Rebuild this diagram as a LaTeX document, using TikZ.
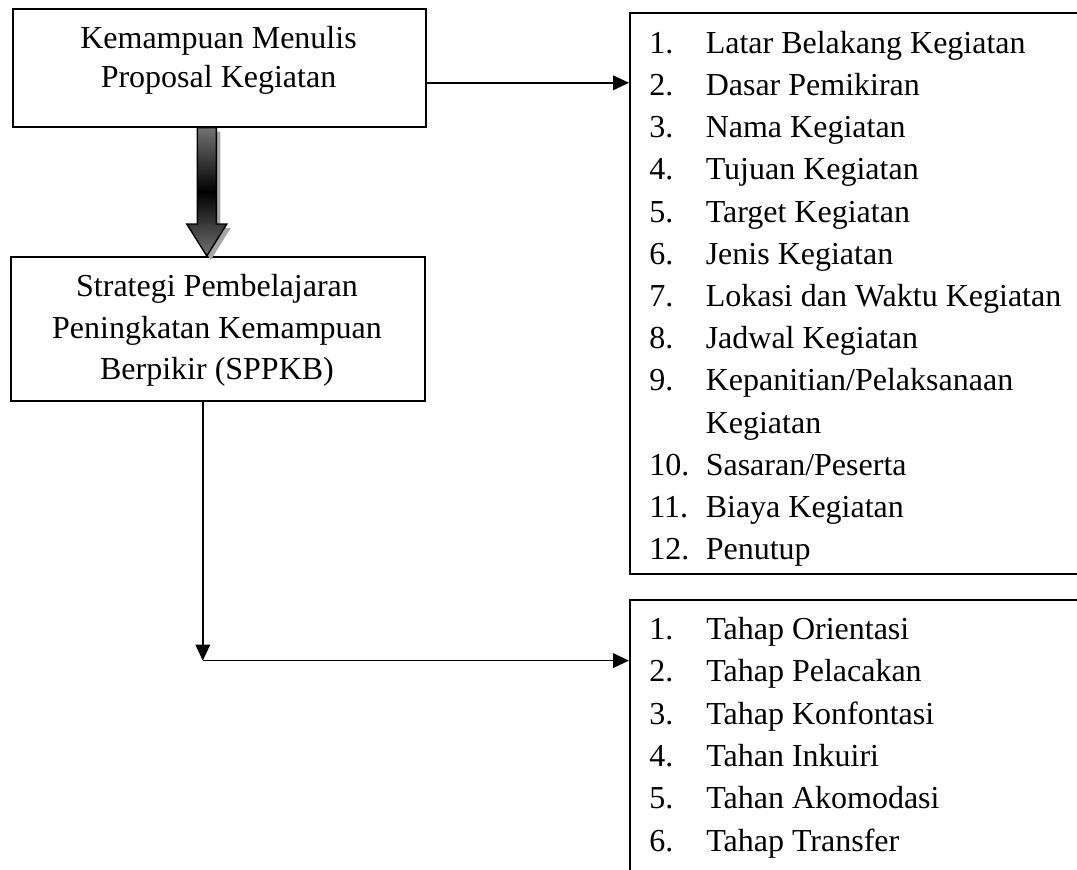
\documentclass[tikz,border=0pt]{standalone}
\usepackage{fontspec}
\setmainfont{Liberation Serif}
\usetikzlibrary{arrows.meta,calc}
\begin{document}
\begin{tikzpicture}[x=0.75pt,y=-0.75pt,
  box/.style={draw,line width=1.2pt,rectangle,anchor=north west,inner sep=0pt},
  txt/.style={anchor=base,inner sep=0pt,font=\fontsize{24}{29}\selectfont},
  itm/.style={anchor=base west,inner sep=0pt,font=\fontsize{24}{29}\selectfont},
  conn/.style={line width=1.1pt,-{Triangle[length=12pt,width=11pt]}}]
\useasboundingbox (0,0) rectangle (1077,870);
\clip (0,0) rectangle (1077,870);

% boxes
\node[box,minimum width=309.75pt,minimum height=88.5pt] (b1) at (12,8) {};
\node[box,minimum width=310.5pt,minimum height=108pt] (b2) at (10,256) {};
\node[box,minimum width=349.5pt,minimum height=420.75pt] (rb1) at (629,12) {};
\node[box,minimum width=349.5pt,minimum height=225pt] (rb2) at (629,599) {};

% box texts
\node[txt] (t1a) at (218.5,48.3) {Kemampuan Menulis};
\node[txt] (t1b) at (218.5,87.3) {Proposal Kegiatan};
\node[txt] (t2a) at (217,296.7) {Strategi Pembelajaran};
\node[txt] (t2b) at (217,338.3) {Peningkatan Kemampuan};
\node[txt] (t2c) at (217,379.3) {Berpikir (SPPKB)};

% list 1
\foreach \l/\n/\t in {1/1./Latar Belakang Kegiatan,
  2/2./Dasar Pemikiran,
  3/3./Nama Kegiatan,
  4/4./Tujuan Kegiatan,
  5/5./Target Kegiatan,
  6/6./Jenis Kegiatan,
  7/7./Lokasi dan Waktu Kegiatan,
  8/8./Jadwal Kegiatan,
  9/9./{Kepanitian/Pelaksanaan},
  10/{}/Kegiatan,
  11/10./{Sasaran/Peserta},
  12/11./Biaya Kegiatan,
  13/12./Penutup}{
  \node[itm] (an\l) at ({649},{53.3+(\l-1)*42.2}) {\n};
  \node[itm] (at\l) at ({705.5},{53.3+(\l-1)*42.2}) {\t};
}

% list 2
\foreach \l/\n/\t in {1/1./Tahap Orientasi,
  2/2./Tahap Pelacakan,
  3/3./Tahap Konfontasi,
  4/4./Tahan Inkuiri,
  5/5./Tahan Akomodasi,
  6/6./Tahap Transfer}{
  \node[itm] (bn\l) at ({649},{639.3+(\l-1)*42.4}) {\n};
  \node[itm] (bt\l) at ({706},{639.3+(\l-1)*42.4}) {\t};
}

% fat 3D arrow from b1 to b2
\coordinate (fa) at ($(b1.south)+(-12.5,0)$);
\coordinate (fb) at ($(b2.north)+(-11,0)$);
\fill[black!35] ($(fa)+(-5.5,4)$) -- ($(fa)+(13.5,4)$) -- ($(fb)+(13.5,-28)$) -- ($(fb)+(24,-28)$) -- ($(fb)+(4,4)$) -- ($(fb)+(-16,-28)$) -- ($(fb)+(-5.5,-28)$) -- cycle;
\draw[line width=1.1pt,top color=black!55,bottom color=black!55,middle color=black]
  ($(fa)+(-9.5,0)$) -- ($(fa)+(9.5,0)$) -- ($(fb)+(9.5,-32)$) -- ($(fb)+(20,-32)$) -- (fb) -- ($(fb)+(-20,-32)$) -- ($(fb)+(-9.5,-32)$) -- cycle;

% connectors
\draw[conn] ([yshift=-11.25pt]b1.east) -- ([yshift=-11.25pt]b1.east -| rb1.west);
\coordinate (corner) at ($(b2.south)+(-15,259)$);
\draw[conn] ([xshift=-11.25pt]b2.south) -- (corner);
\draw[conn] (corner) -- (corner -| rb2.west);
\end{tikzpicture}
\end{document}
